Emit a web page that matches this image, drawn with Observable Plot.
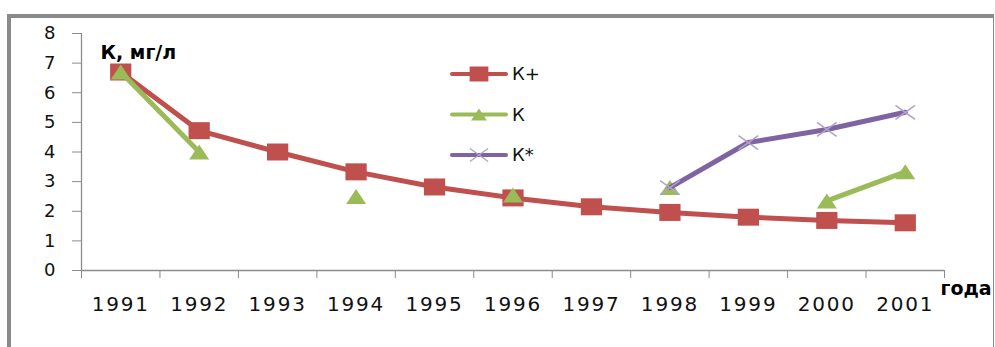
<!DOCTYPE html>
<html>
<head>
<meta charset="utf-8">
<script src="https://cdn.jsdelivr.net/npm/d3@7"></script>
<script src="https://cdn.jsdelivr.net/npm/@observablehq/plot@0.6"></script>
<style>
  html, body { margin: 0; padding: 0; background: #fff; }
  #chart { position: relative; width: 995px; height: 347px; overflow: hidden; font-family: "DejaVu Sans", sans-serif; }
  #frame { position: absolute; left: 7px; top: 14px; width: 982px; height: 420px;
           border-top: 4px solid #8a8a8a; border-left: 4px solid #8a8a8a; border-right: 1px solid #8a8a8a; }
  #plot { position: absolute; left: 0; top: 0; }
  #legend { position: absolute; left: 448px; top: 54px; }
  #plot svg g[aria-label="y-axis tick label"] { font-size: 18px; }
  #plot svg g[aria-label="x-axis tick label"] { font-size: 20px; letter-spacing: 1.8px; }
</style>
</head>
<body>
<div id="chart">
  <div id="frame"></div>
  <div id="plot"></div>
  <div id="legend"></div>
</div>
<script>
// Potassium concentration by year
const years = [1991, 1992, 1993, 1994, 1995, 1996, 1997, 1998, 1999, 2000, 2001];
const kPlus = [6.7, 4.72, 4.0, 3.33, 2.82, 2.45, 2.15, 1.96, 1.8, 1.69, 1.61];
const kMeasured = [6.7, 4.0, null, 2.5, null, 2.55, null, 2.8, null, 2.35, 3.33];
const kStar = [null, null, null, null, null, null, null, 2.8, 4.32, 4.76, 5.34];
const yTicks = [0, 1, 2, 3, 4, 5, 6, 7, 8];
const seriesNames = ["К+", "К", "К*"];
const seriesColors = ["#c0504d", "#9bbb59", "#8064a2"];
const yTitle = "К, мг/л";
const xTitle = "года";

const toRows = (values) => years.map((year, i) => ({ year, value: values[i] == null ? NaN : values[i] }));
const rowsPlus = toRows(kPlus);
const rowsMeasured = toRows(kMeasured);
const rowsStar = toRows(kStar);
const defined = (rows) => rows.filter((d) => !Number.isNaN(d.value));

// Marker shapes (slightly wider than tall)
const rectSymbol = { draw(ctx, size) {
  const r = Math.sqrt(size / Math.PI), w = r * 1.25, h = r;
  ctx.moveTo(-w, -h); ctx.lineTo(w, -h); ctx.lineTo(w, h); ctx.lineTo(-w, h); ctx.closePath();
}};
const triSymbol = { draw(ctx, size) {
  const r = Math.sqrt(size / Math.PI), w = r * 1.33, h = r;
  ctx.moveTo(0, -h); ctx.lineTo(w, h); ctx.lineTo(-w, h); ctx.closePath();
}};
const crossSymbol = { draw(ctx, size) {
  const r = Math.sqrt(size / Math.PI), w = r * 1.4, h = r;
  ctx.moveTo(-w, -h); ctx.lineTo(w, h); ctx.moveTo(-w, h); ctx.lineTo(w, -h);
}};

// Category boundaries for the x tick marks
const xDomain = [years[0] - 0.5, years[years.length - 1] + 0.5];
const boundaries = d3.range(years.length + 1).map((i) => xDomain[0] + i);

const axisGray = "#8c8c8c";

const chart = Plot.plot({
  width: 995,
  height: 347,
  marginLeft: 81,
  marginRight: 51,
  marginTop: 33,
  marginBottom: 77,
  style: { fontFamily: "DejaVu Sans, sans-serif", background: "transparent", overflow: "visible", color: "#000" },
  x: { type: "linear", domain: xDomain },
  y: { domain: [0, 8] },
  marks: [
    Plot.axisY({ ticks: yTicks, tickSize: 9, tickPadding: 17, tickFormat: (d) => String(d),
                 stroke: axisGray, fill: "#111", fontSize: 18, label: null }),
    Plot.axisX({ ticks: boundaries, tickSize: 8, tickFormat: () => "", stroke: axisGray, label: null }),
    Plot.axisX({ ticks: years, tickSize: 0, tickPadding: 26, tickFormat: (d) => String(d),
                 fill: "#111", fontSize: 20, label: null }),
    Plot.ruleX([xDomain[0]], { stroke: axisGray, strokeWidth: 1.3 }),
    Plot.ruleY([0], { stroke: axisGray, strokeWidth: 1.3 }),

    Plot.line(rowsPlus, { x: "year", y: "value", stroke: seriesColors[0], strokeWidth: 5 }),
    Plot.dot(defined(rowsPlus), { x: "year", y: "value", symbol: rectSymbol, r: 8.5, fill: seriesColors[0], stroke: "none" }),

    Plot.line(rowsMeasured, { x: "year", y: "value", stroke: seriesColors[1], strokeWidth: 5 }),
    Plot.dot(defined(rowsMeasured), { x: "year", y: "value", symbol: triSymbol, r: 7.5, fill: seriesColors[1], stroke: "none" }),

    Plot.line(rowsStar, { x: "year", y: "value", stroke: seriesColors[2], strokeWidth: 5 }),
    Plot.dot(defined(rowsStar), { x: "year", y: "value", symbol: crossSymbol, r: 7, fill: "none", stroke: "#b1a0cc", strokeWidth: 1.5 }),

    Plot.text([yTitle], { frameAnchor: "top-left", dx: 19, dy: 12, textAnchor: "start",
                          fontWeight: "bold", fontSize: 19, fill: "#000" }),
    Plot.text([xTitle], { frameAnchor: "bottom-right", dx: -4, dy: 24, textAnchor: "start",
                          fontWeight: "bold", fontSize: 19, fill: "#000" })
  ]
});
document.getElementById("plot").appendChild(chart);

// Legend: line swatch with marker, then the series name
const legendSymbols = [
  { symbol: rectSymbol, r: 7.5, fill: seriesColors[0], stroke: "none" },
  { symbol: triSymbol, r: 6, fill: seriesColors[1], stroke: "none" },
  { symbol: crossSymbol, r: 6.5, fill: "none", stroke: "#b1a0cc" }
];
const legend = d3.select("#legend").append("svg").attr("width", 140).attr("height", 115)
  .style("font-family", "DejaVu Sans, sans-serif");
seriesNames.forEach((name, i) => {
  const g = legend.append("g").attr("transform", `translate(0,${20 + i * 40.5})`);
  g.append("line").attr("x1", 4).attr("x2", 58).attr("stroke", seriesColors[i])
    .attr("stroke-width", 4).attr("stroke-linecap", "round");
  const s = legendSymbols[i];
  g.append("path").attr("transform", "translate(31,0)")
    .attr("d", d3.symbol(s.symbol, s.r * s.r * Math.PI)())
    .attr("fill", s.fill).attr("stroke", s.stroke).attr("stroke-width", 1.3);
  g.append("text").attr("x", 64).attr("dy", "0.35em").attr("font-size", 18).attr("fill", "#111").text(name);
});
</script>
</body>
</html>
